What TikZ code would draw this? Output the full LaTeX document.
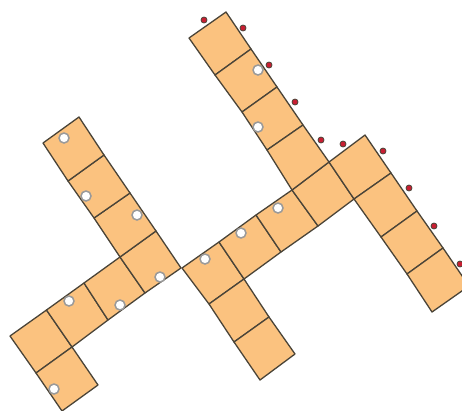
\documentclass[tikz,border=0pt]{standalone}
\definecolor{cellfill}{HTML}{FBC27F}
\definecolor{celledge}{HTML}{4A4438}
\definecolor{reddot}{HTML}{C81E32}
\definecolor{holeedge}{HTML}{9A9A9A}
\tikzset{
  cell/.style={fill=cellfill,draw=celledge,line width=1.3pt,line join=round},
  hole/.style={fill=white,draw=holeedge,line width=1.5pt},
  peg/.style={fill=reddot,draw=celledge,line width=0.8pt},
}
\newcommand{\cellq}[4]{\draw[cell] (#1) -- (#2) -- (#3) -- (#4) -- cycle;}
\begin{document}
\begin{tikzpicture}[x=1pt,y=-1pt]
\path[use as bounding box] (0,0) rectangle (462,410);
\clip (0,0) rectangle (462,410);
\foreach \n/\p in {A0/{10,336},A1/{46.5,310},A2/{84,283},A3/{120,257},A4/{156,231},
  B0/{36,373},B1/{72,347},B2/{108,320},B3/{145,293},B4/{181,268},C0/{62,411},C1/{98,385},
  L1/{94,218},L2/{68,181},L3/{43,143},M1/{130,193},M2/{104,155},M3/{79,117},
  D4/{182,268},D5/{219,242},D6/{256,215},D7/{292,190},D8/{329,162},D9/{365,135},
  E4/{209,304},E5/{244,279},E6/{281,252},E7/{318,226},E8/{354,199},E9/{391,173},
  F4/{234,342},F5/{269,317},G4/{260,380},G5/{295,354},
  R1/{417,211},R2/{443,248},R3/{469,286},S1/{381,237},S2/{407,274},S3/{432,312},
  T0/{189,38},T1/{226,12},T2/{215,75},T3/{251,49},T4/{242,112},T5/{277,87},T6/{267,150},T7/{303,125}}
  {\coordinate (\n) at (\p);}
\cellq{A0}{A1}{B1}{B0}
\cellq{A1}{A2}{B2}{B1}
\cellq{A2}{A3}{B3}{B2}
\cellq{A3}{A4}{B4}{B3}
\cellq{B0}{B1}{C1}{C0}
\cellq{L1}{M1}{A4}{A3}
\cellq{L2}{M2}{M1}{L1}
\cellq{L3}{M3}{M2}{L2}
\cellq{D4}{D5}{E5}{E4}
\cellq{D5}{D6}{E6}{E5}
\cellq{D6}{D7}{E7}{E6}
\cellq{D7}{D8}{E8}{E7}
\cellq{D8}{D9}{E9}{E8}
\cellq{E4}{E5}{F5}{F4}
\cellq{F4}{F5}{G5}{G4}
\cellq{E8}{E9}{R1}{S1}
\cellq{S1}{R1}{R2}{S2}
\cellq{S2}{R2}{R3}{S3}
\cellq{T0}{T1}{T3}{T2}
\cellq{T2}{T3}{T5}{T4}
\cellq{T4}{T5}{T7}{T6}
\cellq{T6}{T7}{D8}{D7}
\foreach \c in {{64,138},{86,196},{137,215},{160,277},{120,305},{69,301},{54,389},{205,259},{241,233},{278,208},{258,70},{258,127}}
  \draw[hole] (\c) circle (5);
\foreach \c in {{204,20},{243,28},{269,65},{295,102},{321,140},{343,144},{383,151},{409,188},{434,226},{460,264}}
  \draw[peg] (\c) circle (3);
\end{tikzpicture}
\end{document}
